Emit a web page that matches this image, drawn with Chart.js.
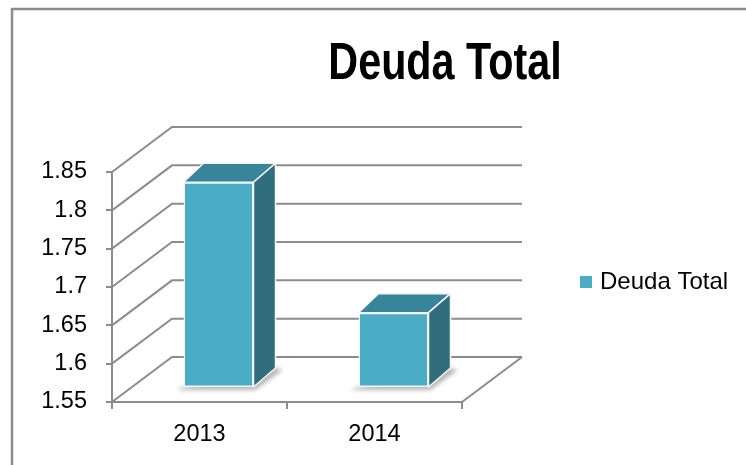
<!DOCTYPE html>
<html>
<head>
<meta charset="utf-8">
<script src="https://cdn.jsdelivr.net/npm/chart.js@4"></script>
<style>
  html, body { margin: 0; padding: 0; background: #fff; }
  #wrap { width: 746px; height: 465px; }
</style>
</head>
<body>
<div id="wrap"><canvas id="chart" width="746" height="465"></canvas></div>
<script>
const chartTitle = "Deuda Total";
const seriesName = "Deuda Total";
const years = ["2013", "2014"];
const deuda = [1.817, 1.647];
const yTicks = [1.55, 1.6, 1.65, 1.7, 1.75, 1.8, 1.85];

const gray = "#8c8c8c";
const front = "#4bacc6";
const topFace = "#38849a";
const sideFace = "#316e7d";
const edge = "#f4f4f4";
const txtFont = '"Liberation Sans", Arial, sans-serif';

// depth of the floor / back wall, and where the bars sit inside it
const wallDx = 60, wallDy = -45;
const barShiftX = 19, barShiftY = -15;
const barDx = 22, barDy = -19;

const box3d = {
  id: "box3d",
  beforeDraw: (chart) => {
    const ctx = chart.ctx;
    ctx.save();
    ctx.strokeStyle = gray;
    ctx.lineWidth = 2.5;
    ctx.beginPath();
    ctx.moveTo(12, 470);
    ctx.lineTo(12, 9);
    ctx.lineTo(750, 9);
    ctx.stroke();

    // narrow bold title (Arial Narrow look)
    ctx.save();
    ctx.fillStyle = "#000";
    ctx.font = "bold 51px " + txtFont;
    ctx.textAlign = "center";
    ctx.textBaseline = "alphabetic";
    ctx.translate(445, 79);
    ctx.scale(0.81, 1);
    ctx.fillText(chartTitle, 0, 0);
    ctx.restore();

    ctx.fillStyle = front;
    ctx.fillRect(580, 276, 12, 12);
    ctx.fillStyle = "#000";
    ctx.font = "24px " + txtFont;
    ctx.textAlign = "left";
    ctx.fillText(seriesName, 600, 289);
    ctx.restore();
  },
  beforeDatasetsDraw: (chart) => {
    const ctx = chart.ctx;
    const { left, right, bottom } = chart.chartArea;
    const y = chart.scales.y;
    ctx.save();
    ctx.strokeStyle = gray;
    ctx.lineWidth = 2;
    yTicks.forEach((v) => {
      const py = y.getPixelForValue(v);
      ctx.beginPath();
      ctx.moveTo(left, py);
      ctx.lineTo(left + wallDx, py + wallDy);
      ctx.lineTo(right + wallDx, py + wallDy);
      ctx.stroke();
    });
    ctx.beginPath();
    ctx.moveTo(right, bottom);
    ctx.lineTo(right + wallDx, bottom + wallDy);
    ctx.stroke();
    ctx.restore();

    // bars sit part way into the floor
    ctx.save();
    ctx.translate(barShiftX, barShiftY);
    const meta = chart.getDatasetMeta(0);
    meta.data.forEach((bar) => {
      const w = bar.width / 2;
      const b = Math.min(bar.base, bottom);
      ctx.save();
      ctx.fillStyle = "rgba(110,110,110,0.5)";
      ctx.filter = "blur(2px)";
      ctx.beginPath();
      ctx.moveTo(bar.x - w - 8, b + 3);
      ctx.lineTo(bar.x + w + 2, b + 3);
      ctx.lineTo(bar.x + w + barDx + 7, b + barDy + 2);
      ctx.lineTo(bar.x + w + barDx, b + barDy);
      ctx.lineTo(bar.x - w, b);
      ctx.closePath();
      ctx.fill();
      ctx.restore();
    });
  },
  afterDatasetsDraw: (chart) => {
    const ctx = chart.ctx;
    const meta = chart.getDatasetMeta(0);
    const bottom = chart.chartArea.bottom;
    ctx.strokeStyle = edge;
    ctx.lineWidth = 1.5;
    ctx.lineJoin = "round";
    meta.data.forEach((bar) => {
      const l = bar.x - bar.width / 2;
      const r = bar.x + bar.width / 2;
      const t = bar.y;
      const b = Math.min(bar.base, bottom);
      ctx.beginPath();
      ctx.moveTo(l, b - 0.75);
      ctx.lineTo(r, b - 0.75);
      ctx.stroke();
      ctx.fillStyle = topFace;
      ctx.beginPath();
      ctx.moveTo(l, t);
      ctx.lineTo(r, t);
      ctx.lineTo(r + barDx, t + barDy);
      ctx.lineTo(l + barDx - 2, t + barDy);
      ctx.closePath();
      ctx.fill();
      ctx.stroke();
      ctx.fillStyle = sideFace;
      ctx.beginPath();
      ctx.moveTo(r, t);
      ctx.lineTo(r + barDx, t + barDy);
      ctx.lineTo(r + barDx, b + barDy);
      ctx.lineTo(r, b);
      ctx.closePath();
      ctx.fill();
      ctx.stroke();
    });
    ctx.restore();
  },
};

new Chart(document.getElementById("chart"), {
  type: "bar",
  data: {
    labels: years,
    datasets: [
      {
        label: seriesName,
        data: deuda,
        backgroundColor: front,
        borderColor: edge,
        borderWidth: 1.5,
        borderSkipped: false,
        barPercentage: 0.4,
        categoryPercentage: 1,
      },
    ],
  },
  options: {
    responsive: false,
    animation: false,
    layout: { padding: { left: 22, right: 284, top: 172, bottom: 23 } },
    plugins: {
      legend: { display: false },
      title: { display: false },
      tooltip: { enabled: false },
    },
    scales: {
      x: {
        afterFit: (s) => { s.height = 40; },
        grid: { offset: true, drawOnChartArea: false, tickLength: 7, color: gray, lineWidth: 2 },
        border: { display: true, color: gray, width: 2 },
        ticks: { color: "#000", padding: 11, font: { family: txtFont, size: 23.5 } },
      },
      y: {
        min: 1.55,
        max: 1.85,
        afterFit: (s) => { s.width = 90; },
        afterBuildTicks: (s) => { s.ticks = yTicks.map((v) => ({ value: v })); },
        grid: { drawOnChartArea: false, tickLength: 6, color: gray, lineWidth: 2 },
        border: { display: true, color: gray, width: 2 },
        ticks: {
          color: "#000",
          padding: 19,
          font: { family: txtFont, size: 23.5 },
          callback: (v) => String(+Number(v).toFixed(2)),
        },
      },
    },
  },
  plugins: [box3d],
});
</script>
</body>
</html>
